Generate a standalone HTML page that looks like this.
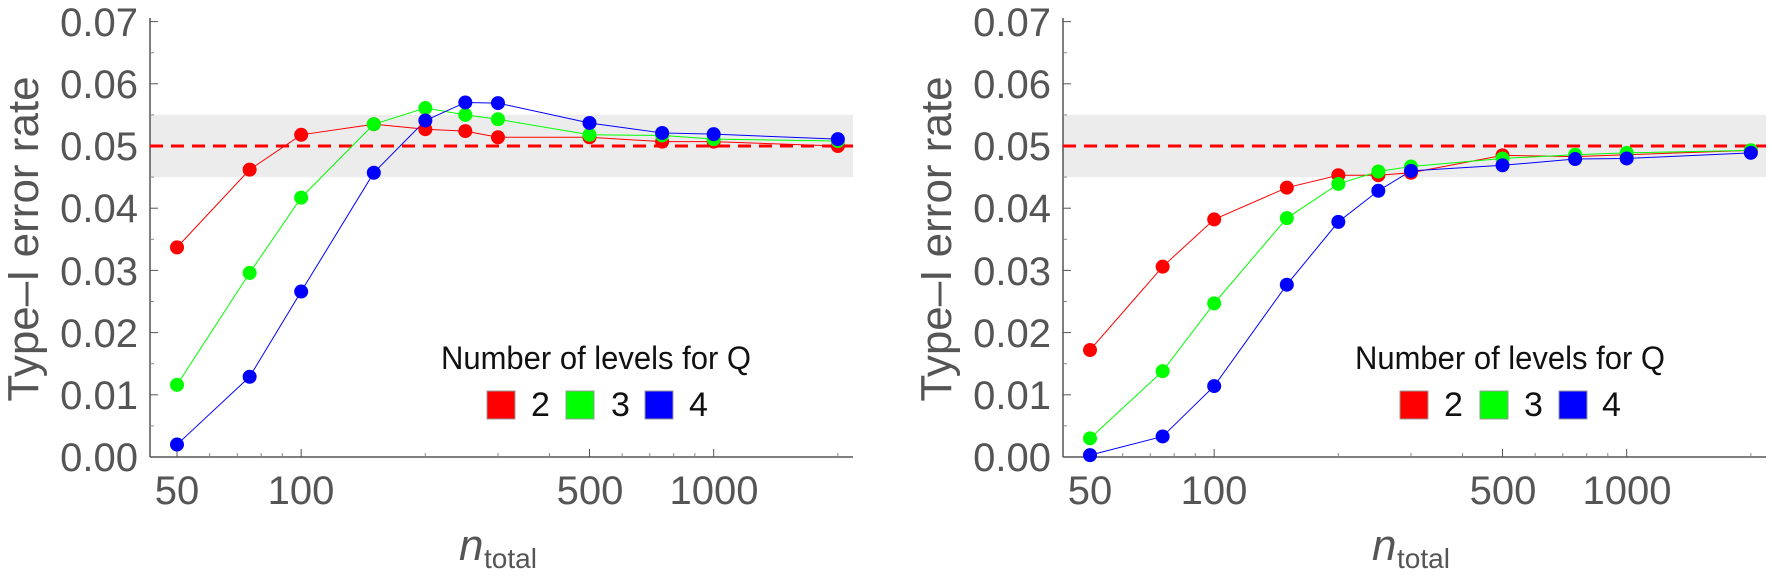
<!DOCTYPE html>
<html><head><meta charset="utf-8"><style>
html,body{margin:0;padding:0;background:#fff;}
svg{display:block;font-family:"Liberation Sans",sans-serif;}
.tk{fill:#555;font-size:40px;}
.yt{fill:#555;font-size:44px;}
.lg{fill:#111;font-size:32px;}
</style></head><body>
<svg id="s" width="1772" height="576" viewBox="0 0 1772 576" xmlns="http://www.w3.org/2000/svg">
<g id="p1">
<text class="tk" x="138" y="471" text-anchor="end">0.00</text>
<text class="tk" x="138" y="409" text-anchor="end">0.01</text>
<text class="tk" x="138" y="347" text-anchor="end">0.02</text>
<text class="tk" x="138" y="285" text-anchor="end">0.03</text>
<text class="tk" x="138" y="222" text-anchor="end">0.04</text>
<text class="tk" x="138" y="160" text-anchor="end">0.05</text>
<text class="tk" x="138" y="98" text-anchor="end">0.06</text>
<text class="tk" x="138" y="36" text-anchor="end">0.07</text>
<text class="tk" x="177" y="504" text-anchor="middle">50</text>
<text class="tk" x="301" y="504" text-anchor="middle">100</text>
<text class="tk" x="590" y="504" text-anchor="middle">500</text>
<text class="tk" x="714" y="504" text-anchor="middle">1000</text>
<text class="yt" transform="translate(38,239) rotate(-90)" text-anchor="middle">Type–I error rate</text>
<text x="459" y="560" style="font-size:44px;fill:#555;font-style:italic">n</text><text x="484" y="568" style="font-size:28px;fill:#555">total</text>
<text class="lg" x="441" y="369" textLength="310" lengthAdjust="spacingAndGlyphs">Number of levels for Q</text>
<rect x="487" y="391" width="28" height="28" fill="#f00" stroke="#999"/>
<text class="lg" x="531" y="416" style="font-size:34px">2</text>
<rect x="566" y="391" width="28" height="28" fill="#0f0" stroke="#999"/>
<text class="lg" x="611" y="416" style="font-size:34px">3</text>
<rect x="645" y="391" width="28" height="28" fill="#00f" stroke="#999"/>
<text class="lg" x="689" y="416" style="font-size:34px">4</text>
</g>
<g id="p2">
<text class="tk" x="1051" y="471" text-anchor="end">0.00</text>
<text class="tk" x="1051" y="409" text-anchor="end">0.01</text>
<text class="tk" x="1051" y="347" text-anchor="end">0.02</text>
<text class="tk" x="1051" y="285" text-anchor="end">0.03</text>
<text class="tk" x="1051" y="222" text-anchor="end">0.04</text>
<text class="tk" x="1051" y="160" text-anchor="end">0.05</text>
<text class="tk" x="1051" y="98" text-anchor="end">0.06</text>
<text class="tk" x="1051" y="36" text-anchor="end">0.07</text>
<text class="tk" x="1090" y="504" text-anchor="middle">50</text>
<text class="tk" x="1214" y="504" text-anchor="middle">100</text>
<text class="tk" x="1503" y="504" text-anchor="middle">500</text>
<text class="tk" x="1627" y="504" text-anchor="middle">1000</text>
<text class="yt" transform="translate(951,239) rotate(-90)" text-anchor="middle">Type–I error rate</text>
<text x="1372" y="560" style="font-size:44px;fill:#555;font-style:italic">n</text><text x="1397" y="568" style="font-size:28px;fill:#555">total</text>
<text class="lg" x="1355" y="369" textLength="310" lengthAdjust="spacingAndGlyphs">Number of levels for Q</text>
<rect x="1400" y="391" width="28" height="28" fill="#f00" stroke="#999"/>
<text class="lg" x="1444" y="416" style="font-size:34px">2</text>
<rect x="1480" y="391" width="28" height="28" fill="#0f0" stroke="#999"/>
<text class="lg" x="1524" y="416" style="font-size:34px">3</text>
<rect x="1559" y="391" width="28" height="28" fill="#00f" stroke="#999"/>
<text class="lg" x="1602" y="416" style="font-size:34px">4</text>
</g>
</svg>
<script>
(function(){
var NS="http://www.w3.org/2000/svg",s=document.getElementById("s");
var ns=[50,75,100,150,200,250,300,500,750,1000,2000];
var P=[
 {ax:150,data:[
  ["#f00",[3.37,4.62,5.18,5.35,5.27,5.24,5.14,5.14,5.07,5.07,5.0]],
  ["#0f0",[1.16,2.96,4.17,5.35,5.61,5.50,5.43,5.18,5.17,5.11,5.08]],
  ["#00f",[0.2,1.29,2.66,4.57,5.41,5.70,5.69,5.37,5.21,5.19,5.11]]]},
 {ax:1063,data:[
  ["#f00",[1.72,3.06,3.82,4.33,4.53,4.53,4.57,4.85,4.83,4.86,4.93]],
  ["#0f0",[0.30,1.38,2.47,3.84,4.39,4.59,4.67,4.80,4.86,4.89,4.93]],
  ["#00f",[0.03,0.33,1.14,2.77,3.78,4.28,4.6,4.69,4.79,4.80,4.89]]]}];
function el(t,a,parent){var e=document.createElementNS(NS,t);for(var k in a)e.setAttribute(k,a[k]);(parent||s).appendChild(e);return e;}
P.forEach(function(p){
 var ax=p.ax,x0=ax+27,end=ax+703;
 function X(n){return x0+412.5*Math.log10(n/50);}
 function Y(v){return 457-62.2*v;}
 var g=el("g",{});
 s.insertBefore(g,s.firstChild);
 el("rect",{x:ax,y:Y(5.5),width:end-ax,height:Y(4.5)-Y(5.5),fill:"#ececec"},g);
 el("line",{x1:ax,y1:18,x2:ax,y2:457,stroke:"#555","stroke-width":1.5});
 el("line",{x1:ax,y1:457,x2:end,y2:457,stroke:"#555","stroke-width":1.5});
 for(var i=0;i<=7;i++){el("line",{x1:ax,y1:Y(i),x2:ax+8,y2:Y(i),stroke:"#555"});
  if(i<7)el("line",{x1:ax,y1:Y(i+0.5),x2:ax+4,y2:Y(i+0.5),stroke:"#888"});}
 [50,100,500,1000].forEach(function(n){el("line",{x1:X(n),y1:457,x2:X(n),y2:449,stroke:"#555"});});
 [60,70,80,90,200,300,400,600,700,800,900,2000].forEach(function(n){el("line",{x1:X(n),y1:457,x2:X(n),y2:453,stroke:"#888"});});
 el("line",{x1:ax,y1:Y(5),x2:end,y2:Y(5),stroke:"#f00","stroke-width":3,"stroke-dasharray":"13 8"});
 p.data.forEach(function(d){
  var pts=ns.map(function(n,i){return X(n)+","+Y(d[1][i]);}).join(" ");
  el("polyline",{points:pts,fill:"none",stroke:d[0],"stroke-width":1});
 });
 p.data.forEach(function(d){
  ns.forEach(function(n,i){el("circle",{cx:X(n),cy:Y(d[1][i]),r:7,fill:d[0]});});
 });
});
})();
</script>
</body></html>
